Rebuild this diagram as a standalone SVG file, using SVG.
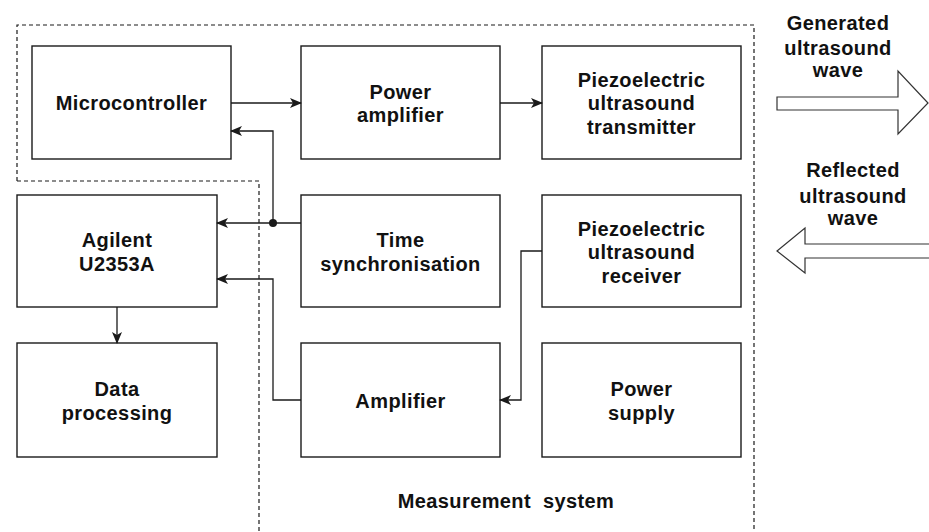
<svg xmlns="http://www.w3.org/2000/svg" width="929" height="532" viewBox="0 0 929 532">
<style>
.box{fill:#fff;stroke:#1a1a1a;stroke-width:1.4}
.t{font-family:"Liberation Sans",Arial,sans-serif;font-weight:bold;font-size:20px;letter-spacing:0.4px;fill:#111;text-anchor:middle}
.c{fill:none;stroke:#1a1a1a;stroke-width:1.3}
.dash{fill:none;stroke:#1a1a1a;stroke-width:1.2;stroke-dasharray:4 3}
.big{fill:#fff;stroke:#333;stroke-width:1.2}
</style>
<defs>
<marker id="ah" viewBox="0 0 12 10" refX="11" refY="5" markerWidth="12" markerHeight="10" markerUnits="userSpaceOnUse" orient="auto">
<path d="M0,0 L12,5 L0,10 L3,5 Z" fill="#1a1a1a"/>
</marker>
</defs>
<g id="boundary">
<path class="dash" d="M17,181 V25 H754 V532"/>
<path class="dash" d="M17,181 H259 V532"/>
</g>
<g id="microcontroller"><rect class="box" x="32" y="46" width="199" height="113"/><text class="t" x="131.5" y="110">Microcontroller</text></g>
<g id="power-amplifier"><rect class="box" x="301" y="46" width="199" height="113"/><text class="t" x="400.5" y="99">Power</text><text class="t" x="400.5" y="122">amplifier</text></g>
<g id="transmitter"><rect class="box" x="542" y="46" width="199" height="113"/><text class="t" x="641.5" y="87">Piezoelectric</text><text class="t" x="641.5" y="110">ultrasound</text><text class="t" x="641.5" y="134">transmitter</text></g>
<g id="agilent"><rect class="box" x="17" y="195" width="200" height="112"/><text class="t" x="117" y="247">Agilent</text><text class="t" x="117" y="271">U2353A</text></g>
<g id="time-sync"><rect class="box" x="301" y="195" width="199" height="112"/><text class="t" x="400.5" y="247">Time</text><text class="t" x="400.5" y="271">synchronisation</text></g>
<g id="receiver"><rect class="box" x="542" y="195" width="199" height="112"/><text class="t" x="641.5" y="236">Piezoelectric</text><text class="t" x="641.5" y="259">ultrasound</text><text class="t" x="641.5" y="283">receiver</text></g>
<g id="data-processing"><rect class="box" x="17" y="343" width="200" height="114"/><text class="t" x="117" y="396">Data</text><text class="t" x="117" y="420">processing</text></g>
<g id="amplifier"><rect class="box" x="301" y="343" width="199" height="114"/><text class="t" x="400.5" y="408">Amplifier</text></g>
<g id="power-supply"><rect class="box" x="542" y="343" width="199" height="114"/><text class="t" x="641.5" y="396">Power</text><text class="t" x="641.5" y="420">supply</text></g>
<g id="label-measurement"><text class="t" x="506" y="508" xml:space="preserve">Measurement  system</text></g>
<g id="generated-wave">
<polygon class="big" points="777,97 898,97 898,71 928,103 898,134 898,110 777,110"/>
<text class="t" x="838" y="30">Generated</text><text class="t" x="838" y="55">ultrasound</text><text class="t" x="838" y="77">wave</text>
</g>
<g id="reflected-wave">
<polygon class="big" points="931,244 805,244 805,228 777,251 805,273 805,258 931,258"/>
<text class="t" x="853" y="177">Reflected</text><text class="t" x="853" y="203">ultrasound</text><text class="t" x="853" y="225">wave</text>
</g>
<g id="connectors">
<path class="c" d="M231,103 H301" marker-end="url(#ah)"/>
<path class="c" d="M500,103 H542" marker-end="url(#ah)"/>
<path class="c" d="M301,223 H273 V131 H231" marker-end="url(#ah)"/>
<path class="c" d="M273,223 H217" marker-end="url(#ah)"/>
<circle cx="273" cy="223" r="4" fill="#1a1a1a"/>
<path class="c" d="M542,251 H521 V400 H500" marker-end="url(#ah)"/>
<path class="c" d="M301,400 H273 V279 H217" marker-end="url(#ah)"/>
<path class="c" d="M117,307 V343" marker-end="url(#ah)"/>
</g>
</svg>
